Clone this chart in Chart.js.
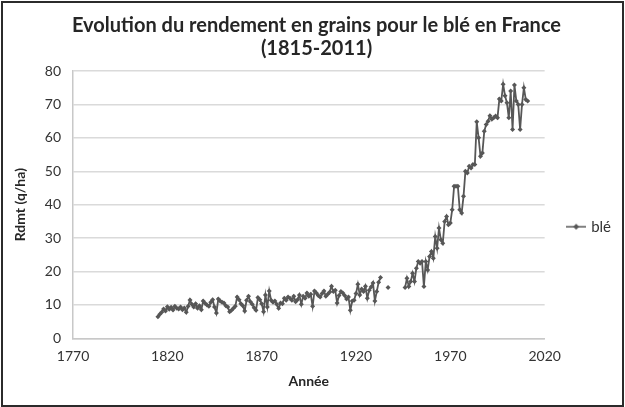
<!DOCTYPE html>
<html>
<head>
<meta charset="utf-8">
<script src="https://cdn.jsdelivr.net/npm/chart.js@4/dist/chart.umd.min.js"></script>
<style>
  html, body { margin: 0; padding: 0; background: #fff; }
  #wrap { position: relative; width: 625px; height: 407px; }
  #frame { position: absolute; left: 1px; top: 1px; width: 619px; height: 402px; border: 2px solid #2b2b2b; pointer-events: none; }
  canvas { position: absolute; left: 0; top: 0; }
</style>
</head>
<body>
<div id="wrap">
  <canvas id="chart" width="625" height="407"></canvas>
  <div id="frame"></div>
</div>
<script>
const titleLines = ['Evolution du rendement en grains pour le blé en France', '(1815-2011)']
const seriesName = 'blé'
const xTitle = 'Année'
const yTitle = 'Rdmt (q/ha)'
const xMin = 1770, xMax = 2020, xStep = 50
const yMin = 0, yMax = 80, yStep = 10

// 1815 -> 1933
const preWarStart = 1815
const preWarYields = [
  6.5, 7.2, 7.8, 8.8, 8.2, 9.5, 8.7, 9.3, 8.5, 9.6,
  9.0, 8.8, 9.4, 8.6, 9.1, 7.8, 9.6, 11.5, 10.2, 9.4,
  10.4, 9.0, 9.8, 8.6, 11.2, 10.5, 10.0, 9.6, 10.8, 11.6,
  9.4, 7.6, 11.8, 11.2, 10.8, 10.6, 9.8, 9.4, 8.0, 8.4,
  9.0, 9.6, 12.4, 11.6, 10.4, 9.8, 8.2, 11.4, 12.6, 11.0,
  10.2, 9.2, 8.4, 12.2, 11.6, 10.4, 8.0, 13.0, 9.4, 14.2,
  11.4, 10.8, 11.2, 10.2, 9.0, 10.6, 10.4, 12.0, 11.4, 12.4,
  12.0, 11.4, 12.6, 11.0, 11.6, 13.0, 10.2, 12.6, 12.0, 13.6,
  12.6, 13.2, 9.6, 14.2, 13.6, 12.8, 12.4, 13.4, 14.2, 12.6,
  13.2, 13.8, 15.6, 14.0, 14.4, 10.6, 12.8, 14.0, 13.6, 12.8,
  11.8, 12.4, 8.4, 11.2, 11.4, 13.4, 16.2, 13.0, 14.8, 14.0,
  15.6, 12.0, 14.4, 15.4, 16.6, 11.2, 14.0, 16.8, 18.2
]

// single reading between the gaps
const lonelyYear = 1937
const lonelyYield = 15.2

// 1946 -> 2011
const postWarStart = 1946
const postWarYields = [
  15.2, 18.0, 15.5, 17.0, 19.5, 17.0, 21.0, 23.0, 22.5, 23.0,
  15.5, 23.0, 20.5, 24.5, 26.0, 24.0, 30.5, 27.0, 33.0, 29.5,
  28.5, 35.0, 36.5, 34.0, 34.5, 38.5, 45.5, 45.5, 45.5, 38.5,
  37.5, 42.5, 50.0, 49.5, 51.5, 51.0, 52.0, 52.0, 64.8, 60.0,
  54.5, 55.5, 62.0, 64.0, 65.0, 66.6, 65.6, 66.0, 66.5, 66.0,
  71.6, 71.0, 76.0, 72.6, 70.5, 66.0, 74.0, 62.5, 75.8, 71.0,
  70.0, 62.5, 70.0, 75.0, 71.5, 71.0
]

const points = []
preWarYields.forEach((v, i) => points.push({ x: preWarStart + i, y: v }))
points.push({ x: preWarStart + preWarYields.length, y: null })
points.push({ x: lonelyYear, y: lonelyYield })
points.push({ x: lonelyYear + 1, y: null })
postWarYields.forEach((v, i) => points.push({ x: postWarStart + i, y: v }))

const lineColor = '#575757'
const textColor = '#333333'
const fontFamily = 'Lato, "Open Sans", sans-serif'

// legend glyph: short line with a diamond in the middle
const legendGlyph = (() => {
  const c = document.createElement('canvas')
  c.width = 20
  c.height = 8
  const g = c.getContext('2d')
  g.strokeStyle = lineColor
  g.lineWidth = 1.5
  g.beginPath(); g.moveTo(0, 4); g.lineTo(20, 4); g.stroke()
  g.fillStyle = lineColor
  g.beginPath(); g.moveTo(10, 1); g.lineTo(13, 4); g.lineTo(10, 7); g.lineTo(7, 4); g.closePath(); g.fill()
  return c
})()

new Chart(document.getElementById('chart'), {
  type: 'line',
  data: {
    datasets: [{
      label: seriesName,
      data: points,
      borderColor: lineColor,
      backgroundColor: lineColor,
      borderWidth: 1.8,
      pointStyle: 'rectRot',
      pointRadius: 2.5,
      pointBorderWidth: 0,
      pointBackgroundColor: lineColor,
      spanGaps: false,
      tension: 0
    }]
  },
  options: {
    responsive: false,
    animation: false,
    layout: { padding: { top: 14, bottom: 17, left: 12, right: 4 } },
    plugins: {
      title: {
        display: true,
        text: titleLines,
        color: '#262626',
        font: { family: fontFamily, size: 20, weight: 'bold', lineHeight: 1.15 },
        padding: { top: 0, bottom: 11 }
      },
      legend: {
        position: 'right',
        fullSize: false,
        title: { display: true, text: ' ', font: { size: 10, lineHeight: 1 }, padding: { top: 0, bottom: 34 } },
        labels: {
          usePointStyle: true,
          color: textColor,
          font: { family: fontFamily, size: 15 },
          boxWidth: 20,
          padding: 24,
          generateLabels: chart => [{
            text: seriesName,
            pointStyle: legendGlyph,
            fontColor: textColor,
            datasetIndex: 0
          }]
        }
      },
      tooltip: { enabled: false }
    },
    scales: {
      x: {
        type: 'linear',
        min: xMin,
        max: xMax,
        ticks: { stepSize: xStep, color: textColor, font: { family: fontFamily, size: 14 }, padding: 10, callback: v => String(v) },
        grid: { display: false, drawTicks: false },
        border: { display: true, color: '#c8c8c8', width: 1.5 },
        title: { display: true, text: xTitle, color: '#262626', font: { family: fontFamily, size: 14, weight: 'bold' }, padding: { top: -2, bottom: 0 } }
      },
      y: {
        min: yMin,
        max: yMax,
        ticks: { stepSize: yStep, color: textColor, font: { family: fontFamily, size: 14 }, padding: 12 },
        grid: { color: '#dadada', lineWidth: 1.5, drawTicks: false },
        border: { display: true, color: '#c8c8c8', width: 1.5 },
        title: { display: true, text: yTitle, color: '#262626', font: { family: fontFamily, size: 14, weight: 'bold' }, padding: { top: 0, bottom: 4 } }
      }
    }
  }
})
</script>
</body>
</html>
